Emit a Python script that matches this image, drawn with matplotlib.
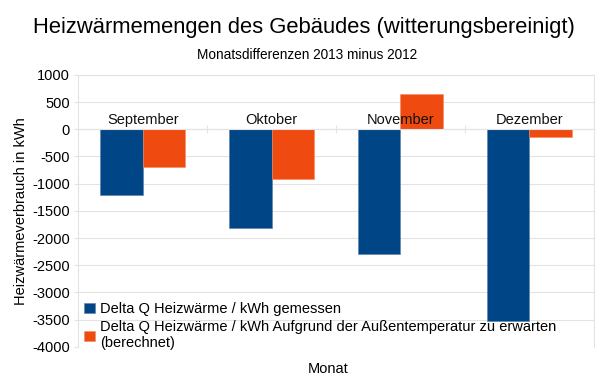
import numpy as np
import matplotlib
matplotlib.use('Agg')
import matplotlib.pyplot as plt

plt.rcParams['font.family'] = ['Liberation Sans', 'DejaVu Sans']

# data
monate = ['September', 'Oktober', 'November', 'Dezember']
gemessen = [-1200, -1810, -2300, -3530]
erwartet = [-700, -920, 650, -150]
serien = ['Delta Q Heizwärme / kWh gemessen',
          'Delta Q Heizwärme / kWh Aufgrund der Außentemperatur zu erwarten\n(berechnet)']
yticks = np.arange(-4000, 1001, 500)

blau = '#004586'
orange = '#ef4a10'
grau = '#e3e3e3'

fig = plt.figure(figsize=[6.02, 3.88], dpi=100)
ax = fig.add_axes([0.13, 0.106, 0.856, 0.701])

x = np.arange(len(monate))
w = 0.33
ax.bar(x - w/2, gemessen, w, color=blau, edgecolor='#5a7fa8', linewidth=0.4, label=serien[0], zorder=2)
ax.bar(x + w/2, erwartet, w, color=orange, edgecolor='#f08a60', linewidth=0.4, label=serien[1], zorder=2)

# month names sit on the zero line
for i in range(len(monate)):
    ax.annotate(monate[i], (x[i], 0), xytext=(0, 2), textcoords='offset points',
                ha='center', va='bottom', fontsize=10.5, color='#111111', zorder=5)

ax.set_xlim(-0.5, len(monate) - 0.5)
ax.set_ylim(-4000, 1000)
ax.set_yticks(yticks)
ax.set_yticklabels([str(v) for v in yticks], fontsize=10.5)
ax.yaxis.grid(True, color=grau, linewidth=0.8, zorder=0)
ax.set_axisbelow(True)
ax.tick_params(axis='y', length=3, color=grau, pad=3)

# x axis runs through zero with small ticks between the months
ax.spines['bottom'].set_position(('data', 0))
ax.set_xticks(x[:-1] + 0.5)
ax.set_xticklabels([])
ax.tick_params(axis='x', direction='inout', length=6, color=grau)
for s in ax.spines.values():
    s.set_color(grau)
    s.set_linewidth(0.8)

ax.set_ylabel('Heizwärmeverbrauch in kWh', fontsize=10.5, labelpad=3)
fig.text(0.545, 0.05, 'Monat', ha='center', va='center', fontsize=10.5)

fig.text(0.505, 0.93, 'Heizwärmemengen des Gebäudes (witterungsbereinigt)', ha='center', va='center', fontsize=15.8)
fig.text(0.51, 0.858, 'Monatsdifferenzen 2013 minus 2012', ha='center', va='center', fontsize=9.8)

ax.legend(loc='lower left', bbox_to_anchor=(-0.005, -0.045), frameon=False, fontsize=10.5,
          handlelength=0.7, handleheight=0.7, handletextpad=0.4, labelspacing=0.3, borderaxespad=0.2)

fig.savefig('out.png', dpi=100)
